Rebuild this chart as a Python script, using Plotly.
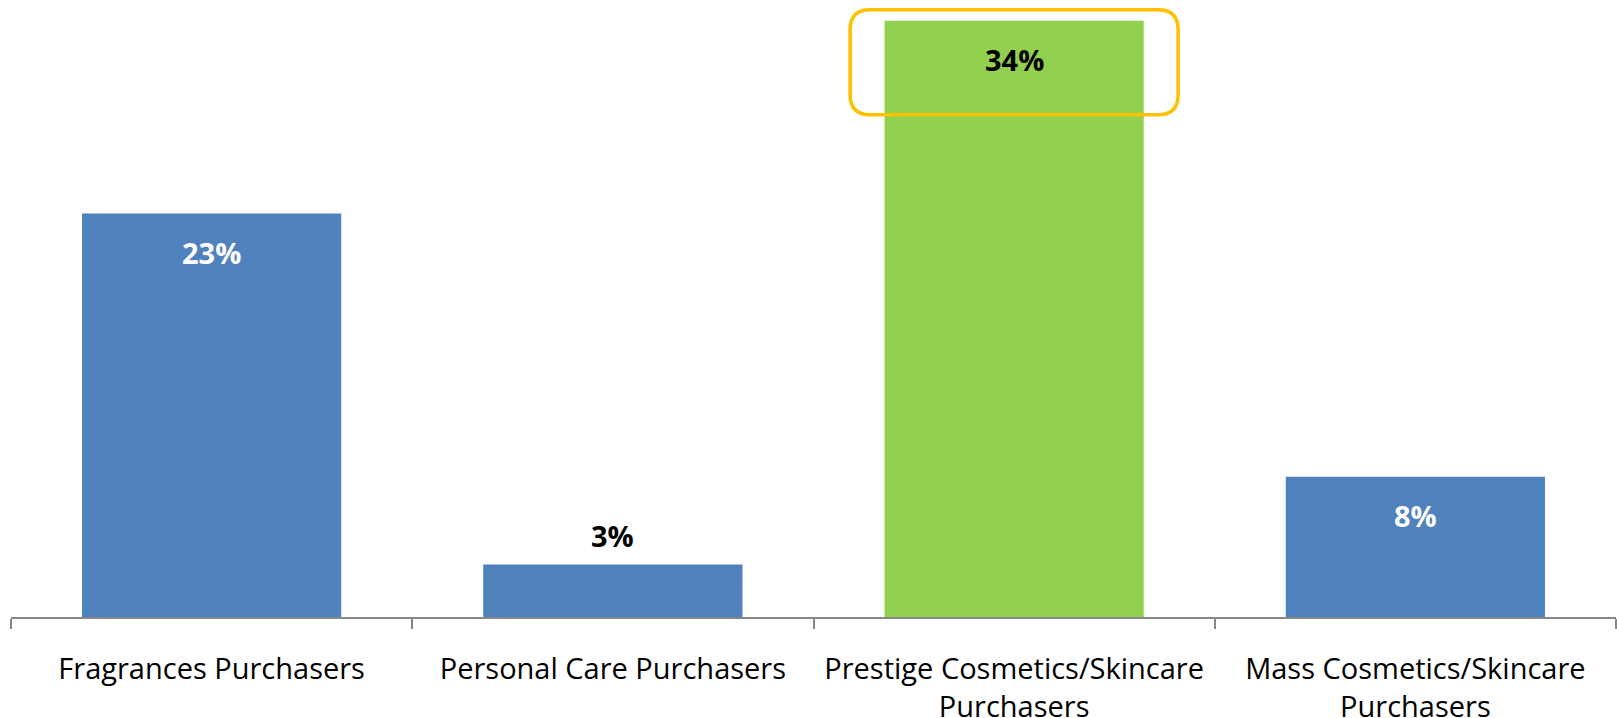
import plotly.graph_objects as go

# Share of purchasers by segment (%)
categories = [
    "Fragrances Purchasers",
    "Personal Care Purchasers",
    "Prestige Cosmetics/Skincare<br>Purchasers",
    "Mass Cosmetics/Skincare<br>Purchasers",
]
values = [23, 3, 34, 8]
value_labels = ["23%", "3%", "34%", "8%"]

BLUE = "#4F81BD"
GREEN = "#92D050"
ORANGE = "#FFC000"
colors = [BLUE, BLUE, GREEN, BLUE]
label_colors = ["white", "black", "black", "white"]
label_inside = [True, False, True, True]

fig = go.Figure(
    go.Bar(
        x=categories,
        y=values,
        marker=dict(color=colors, line=dict(width=0)),
        hoverinfo="skip",
    )
)

# Value labels: inside near the top of tall bars, above the short one
for cat, val, lab, col, inside in zip(categories, values, value_labels, label_colors, label_inside):
    fig.add_annotation(
        x=cat,
        y=val,
        text=f"<b>{lab}</b>",
        showarrow=False,
        yshift=-39 if inside else 29,
        font=dict(family="Open Sans, sans-serif", size=29, color=col),
    )

# Rounded highlight frame around the top of the leading bar
w, top, bot, r = 164, 11, -94, 20
path = (
    f"M {-w + r},{top} L {w - r},{top} Q {w},{top} {w},{top - r} "
    f"L {w},{bot + r} Q {w},{bot} {w - r},{bot} "
    f"L {-w + r},{bot} Q {-w},{bot} {-w},{bot + r} "
    f"L {-w},{top - r} Q {-w},{top} {-w + r},{top} Z"
)
fig.add_shape(
    type="path",
    xref="x",
    yref="y",
    xsizemode="pixel",
    ysizemode="pixel",
    xanchor=2,
    yanchor=values[2],
    path=path,
    line=dict(color=ORANGE, width=3.5),
    fillcolor="rgba(0,0,0,0)",
)

fig.update_layout(
    width=1617,
    height=718,
    margin=dict(l=11, r=1, t=0, b=101, autoexpand=False),
    paper_bgcolor="white",
    plot_bgcolor="white",
    bargap=0.354,
    showlegend=False,
    font=dict(family="Open Sans, sans-serif", color="black"),
)
fig.update_xaxes(
    type="category",
    automargin=False,
    showline=True,
    linecolor="#888888",
    linewidth=2,
    ticks="outside",
    tickson="boundaries",
    ticklen=10,
    tickwidth=2,
    tickcolor="#888888",
    tickfont=dict(size=29, color="black"),
    ticklabelstandoff=25,
    showgrid=False,
    zeroline=False,
)
fig.update_yaxes(
    range=[0, 35.18],
    visible=False,
    showgrid=False,
    zeroline=False,
)

fig.write_html("out.html")
